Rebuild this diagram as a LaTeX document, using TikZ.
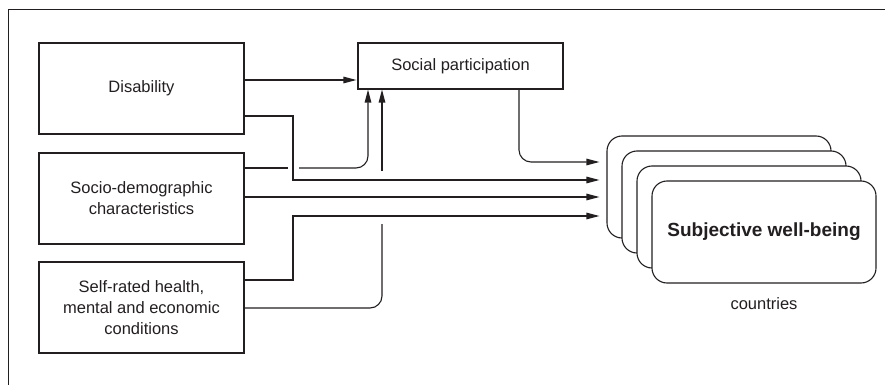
\documentclass[tikz,border=0pt]{standalone}
\usepackage{fontspec}
\setmainfont{Liberation Sans}
\usepackage{tikz}
\usetikzlibrary{arrows.meta, positioning, calc}
\definecolor{Ink}{HTML}{231F20}

\begin{document}
\begin{tikzpicture}[
  x=1pt, y=-1pt,
  font=\fontsize{16.5}{21}\selectfont,
  factor/.style={draw=Ink, line width=1.1pt, text=Ink, align=center, minimum width=205pt, minimum height=91pt, inner sep=0pt},
  mediator/.style={factor, minimum height=46pt},
  card/.style={draw=Ink, line width=1.1pt, fill=white, text=Ink, rounded corners=15pt, minimum width=224pt, minimum height=102pt},
  link/.style={draw=Ink, line width=1.1pt},
  arrow/.style={link, -{Triangle[length=13pt, width=6.5pt]}},
  frame/.style={draw=Ink, line width=0.9pt}
]
\useasboundingbox (0,0) rectangle (885,385);
\draw[frame] (8,385) -- (8,9) -- (885,9);

\node[factor] (dis) at (141.5,88.5) {Disability};
\node[factor] (socio) at (141.5,198.5) {Socio-demographic\\characteristics};
\node[factor] (srh) at (141.5,307.5) {Self-rated health,\\mental and economic\\conditions};
\node[mediator] (social) at (460.5,66) {Social participation};

\node[card] (swb1) at (719,187) {};
\node[card] (swb2) at (734,202) {};
\node[card] (swb3) at (749,217) {};
\node[card, font=\fontsize{19}{23}\selectfont\bfseries] (swb4) at (764,232) {Subjective well-being};
\node[text=Ink] (countries) at (764,304) {countries};

% into social participation
\draw[arrow, shorten >=1pt] (dis.east |- 0,80) -- (social.west |- 0,80);
\coordinate (sdL) at (288,168);
\coordinate (sdR) at (299,168);
\draw[link] (socio.east |- sdL) -- (sdL);
\draw[arrow, rounded corners=12pt] (sdR) -| (social.south -| 368,0);
\coordinate (srLow) at (382,224);
\coordinate (srUp) at (382,171);
\draw[link, rounded corners=12pt] (srh.east |- 0,308) -| (srLow);
\draw[arrow] (srUp) -- (social.south -| srUp);

% into subjective well-being
\draw[arrow, rounded corners=12pt, shorten >=7pt] (social.south -| 519,0) |- (swb1.west |- 0,162);
\draw[arrow, shorten >=7pt] (dis.east |- 0,116) -| (293,180) -- (swb1.west |- 0,180);
\draw[arrow, shorten >=7pt] (socio.east |- 0,197) -- (swb1.west |- 0,197);
\draw[arrow, shorten >=7pt] (srh.east |- 0,280) -| (293,216) -- (swb1.west |- 0,216);
\end{tikzpicture}
\end{document}
